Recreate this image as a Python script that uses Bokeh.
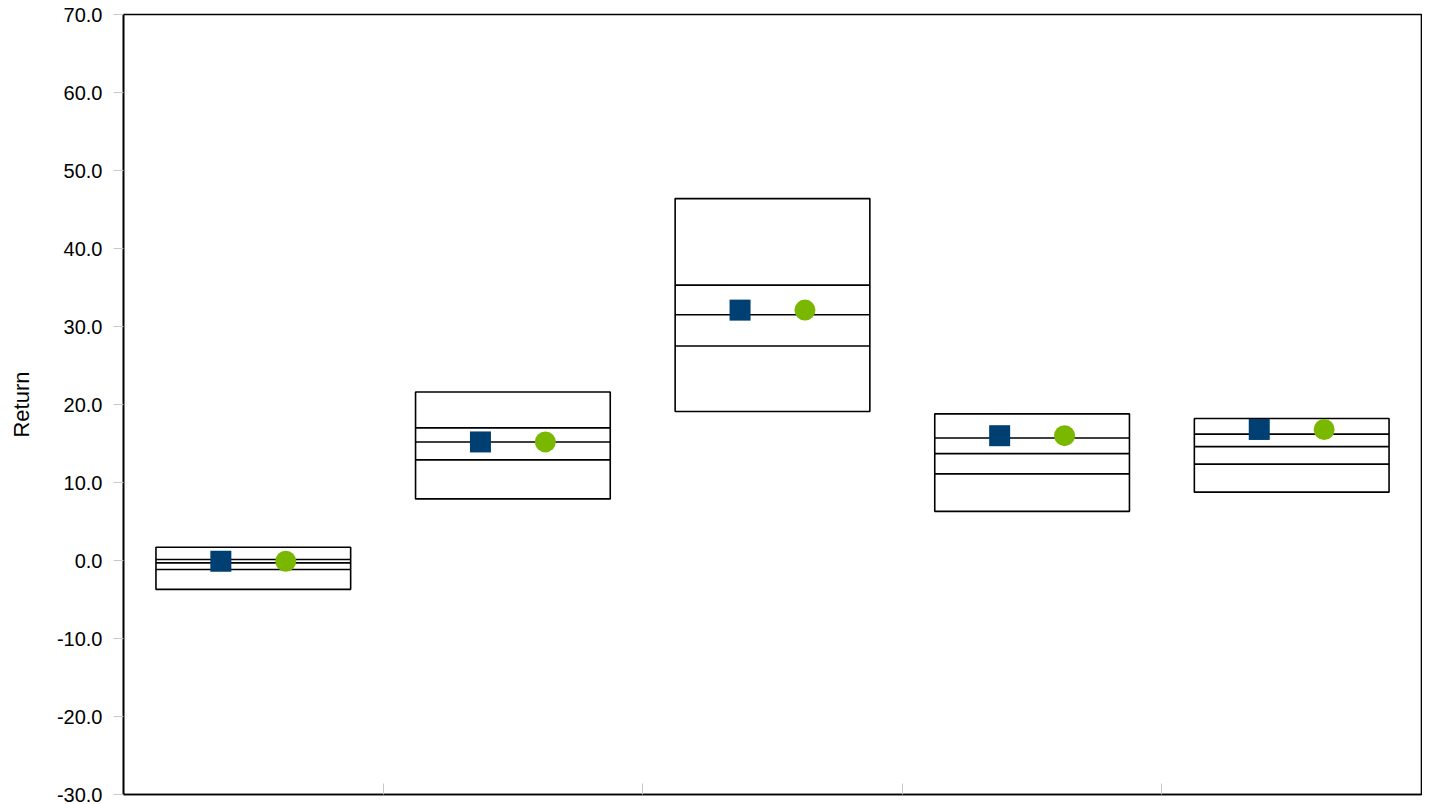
from bokeh.plotting import figure
from bokeh.models import FixedTicker, ColumnDataSource, NumeralTickFormatter
from bokeh.embed import file_html
from bokeh.resources import INLINE

# Data
periods = ["P1", "P2", "P3", "P4", "P5"]
range_top = [1.7, 21.6, 46.4, 18.8, 18.2]
upper_q = [0.13, 17.0, 35.3, 15.7, 16.2]
median = [-0.3, 15.2, 31.5, 13.7, 14.6]
lower_q = [-1.15, 12.9, 27.5, 11.1, 12.35]
range_bottom = [-3.7, 7.9, 19.1, 6.3, 8.76]
portfolio = [-0.1, 15.2, 32.1, 16.0, 16.8]
benchmark = [-0.1, 15.2, 32.1, 16.0, 16.8]
y_ticks = [-30, -20, -10, 0, 10, 20, 30, 40, 50, 60, 70]
sep_ticks = [1, 2, 3, 4]

FONT = "Liberation Sans"
half_w = 0.375
xc = [i + 0.5 for i in range(len(periods))]

src = ColumnDataSource(dict(
    x=xc,
    left=[x - half_w for x in xc],
    right=[x + half_w for x in xc],
    top=range_top, bottom=range_bottom,
    uq=upper_q, med=median, lq=lower_q,
    xs=[x - 0.125 for x in xc], xb=[x + 0.125 for x in xc],
    port=portfolio, bench=benchmark,
))

p = figure(frame_width=1298, frame_height=780, x_range=(0, 5), y_range=(-30, 70),
           output_backend="svg", toolbar_location=None,
           min_border_left=123, min_border_right=1, min_border_top=14, min_border_bottom=10)

p.quad(left="left", right="right", top="top", bottom="bottom", source=src,
       fill_color=None, line_color="black", line_width=1.6)
for col in ["uq", "med", "lq"]:
    p.segment(x0="left", x1="right", y0=col, y1=col, source=src,
              line_color="black", line_width=1.6)

p.scatter(x="xs", y="port", source=src, marker="square", size=21,
          fill_color="#003F72", line_color="#003F72", line_width=0)
p.scatter(x="xb", y="bench", source=src, marker="circle", size=21,
          fill_color="#7AB800", line_color="#7AB800", line_width=0)

p.xgrid.visible = False
p.ygrid.visible = False
p.outline_line_color = "black"
p.outline_line_width = 1.6

# y axis
p.yaxis.ticker = FixedTicker(ticks=y_ticks)
p.yaxis.formatter = NumeralTickFormatter(format="0.0")
p.yaxis.axis_label = "Return"
p.yaxis.axis_label_text_font = FONT
p.yaxis.axis_label_text_font_style = "normal"
p.yaxis.axis_label_text_font_size = "22px"
p.yaxis.axis_label_text_color = "black"
p.yaxis.axis_label_standoff = 20
p.yaxis.major_label_text_font = FONT
p.yaxis.major_label_text_font_size = "20px"
p.yaxis.major_label_text_color = "black"
p.yaxis.major_label_standoff = 11
p.yaxis.major_tick_out = 10
p.yaxis.major_tick_in = 0
p.yaxis.major_tick_line_color = "#c8c8c8"
p.yaxis.minor_tick_line_color = None
p.yaxis.axis_line_color = "black"
p.yaxis.axis_line_width = 1.6

# x axis: only inner separator ticks, no labels
p.xaxis.ticker = FixedTicker(ticks=sep_ticks)
p.xaxis.major_label_overrides = {t: "" for t in sep_ticks}
p.xaxis.major_label_standoff = 0
p.xaxis.major_tick_in = 11
p.xaxis.major_tick_out = 0
p.xaxis.major_tick_line_color = "#c8c8c8"
p.xaxis.minor_tick_line_color = None
p.xaxis.axis_line_color = "black"
p.xaxis.axis_line_width = 1.6

open("out.html", "w").write(file_html(p, INLINE))
